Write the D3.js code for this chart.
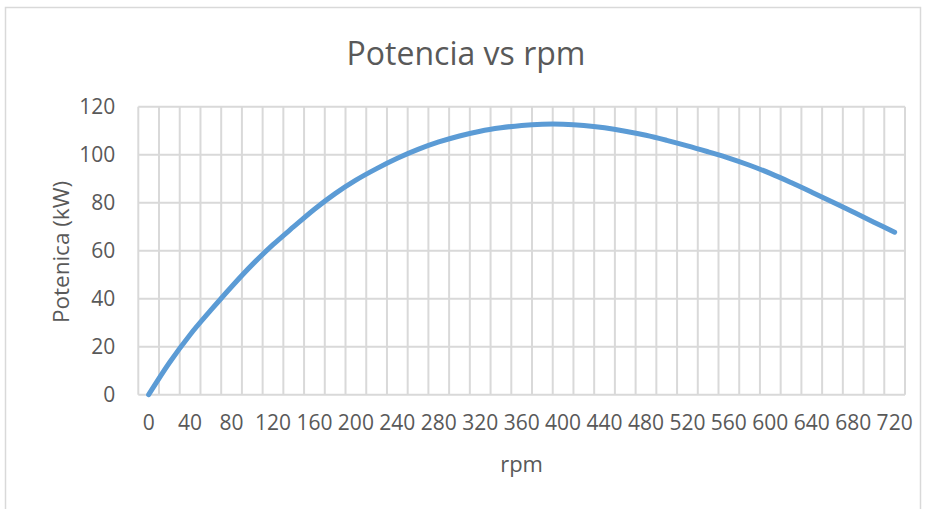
<!DOCTYPE html>
<html>
<head>
<meta charset="utf-8">
<script src="https://cdn.jsdelivr.net/npm/d3@7"></script>
<style>
  html, body { margin: 0; padding: 0; background: #ffffff; }
  svg { display: block; }
  text { font-family: "Open Sans", "Liberation Sans", sans-serif; fill: #595959; }
</style>
</head>
<body>
<svg id="chart" width="926" height="509"></svg>
<script>
// Engine speed categories (rpm) and measured power (kW)
const rpm = [0, 20, 40, 60, 80, 100, 120, 140, 160, 180, 200, 220, 240, 260, 280, 300,
  320, 340, 360, 380, 400, 420, 440, 460, 480, 500, 520, 540, 560, 580, 600, 620,
  640, 660, 680, 700, 720];
const potencia = [0, 13.3, 25.0, 35.2, 45.0, 54.2, 62.5, 70.0, 77.3, 83.8, 89.4, 94.2,
  98.5, 102.2, 105.3, 107.8, 109.8, 111.2, 112.2, 112.7, 112.7, 112.2, 111.2, 109.8,
  108.1, 106.0, 103.7, 101.2, 98.6, 95.6, 92.2, 88.4, 84.4, 80.3, 76.1, 71.9, 67.7];
const yTicks = [0, 20, 40, 60, 80, 100, 120];
const xTickLabels = rpm.filter((d, i) => i % 2 === 0);

const titleText = "Potencia vs rpm";
const xTitle = "rpm";
const yTitle = "Potenica (kW)";

const svg = d3.select("#chart");
const plot = { left: 138.3, right: 905, top: 106.7, bottom: 394.7 };
const gridColor = "#d9d9d9";

// chart frame
svg.append("rect")
  .attr("x", 5.5).attr("y", 7.5)
  .attr("width", 915).attr("height", 520)
  .attr("fill", "#ffffff")
  .attr("stroke", gridColor).attr("stroke-width", 1.5);

const x = d3.scaleBand().domain(rpm).range([plot.left, plot.right]).paddingInner(0).paddingOuter(0);
const y = d3.scaleLinear().domain([0, 120]).range([plot.bottom, plot.top]);
const cx = d => x(d) + x.bandwidth() / 2;

// vertical gridlines at category boundaries
const bounds = rpm.map(d => x(d)).concat([plot.right]);
svg.append("g").selectAll("line").data(bounds).join("line")
  .attr("x1", d => d).attr("x2", d => d)
  .attr("y1", plot.top).attr("y2", plot.bottom)
  .attr("stroke", gridColor).attr("stroke-width", 2);

// horizontal gridlines
svg.append("g").selectAll("line").data(yTicks).join("line")
  .attr("x1", plot.left).attr("x2", plot.right)
  .attr("y1", d => y(d)).attr("y2", d => y(d))
  .attr("stroke", gridColor).attr("stroke-width", 2);

// y axis labels
const yAxis = d3.axisLeft(y).tickValues(yTicks).tickSize(0).tickPadding(23);
const gy = svg.append("g").attr("transform", `translate(${plot.left},0)`).call(yAxis);
gy.select(".domain").remove();
gy.selectAll("text").style("font-size", "21px").style("fill", "#595959")
  .style("font-family", '"Open Sans", sans-serif');

// x axis labels (every second category)
const xAxis = d3.axisBottom(x).tickValues(xTickLabels).tickSize(0).tickPadding(20);
const gx = svg.append("g").attr("transform", `translate(0,${plot.bottom})`).call(xAxis);
gx.select(".domain").remove();
gx.selectAll("text").style("font-size", "21px").style("fill", "#595959")
  .style("font-family", '"Open Sans", sans-serif');

// power curve
const line = d3.line()
  .x((d, i) => cx(rpm[i]))
  .y(d => y(d))
  .curve(d3.curveCatmullRom.alpha(0.5));
svg.append("path")
  .datum(potencia)
  .attr("d", line)
  .attr("fill", "none")
  .attr("stroke", "#5b9bd5")
  .attr("stroke-width", 5)
  .attr("stroke-linecap", "round")
  .attr("stroke-linejoin", "round");

// titles
svg.append("text")
  .attr("x", 466).attr("y", 65)
  .attr("text-anchor", "middle")
  .style("font-size", "32px")
  .text(titleText);

svg.append("text")
  .attr("x", 521.6).attr("y", 472)
  .attr("text-anchor", "middle")
  .style("font-size", "22px")
  .text(xTitle);

svg.append("text")
  .attr("transform", "translate(69,252) rotate(-90)")
  .attr("text-anchor", "middle")
  .style("font-size", "22.5px")
  .text(yTitle);
</script>
</body>
</html>
